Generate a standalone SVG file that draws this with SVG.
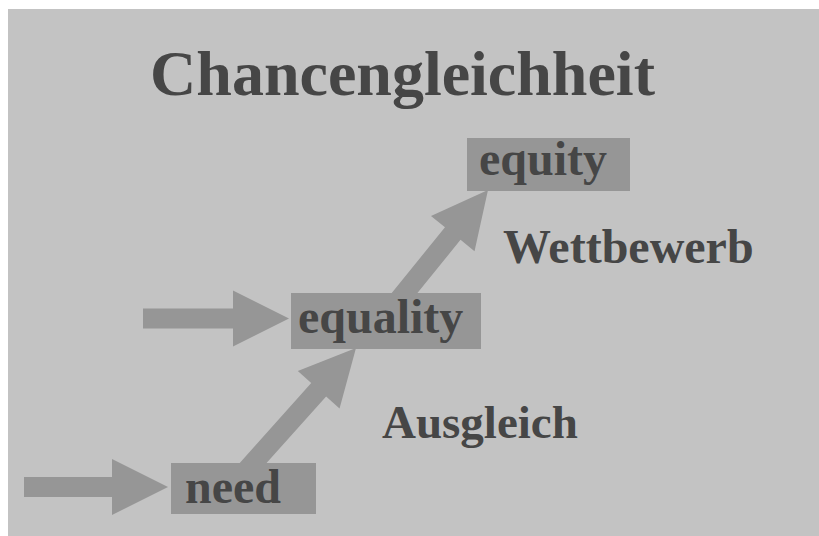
<svg xmlns="http://www.w3.org/2000/svg" width="819" height="536" viewBox="0 0 819 536">
<style>
.bg{fill:#c3c3c3}
.box{fill:#969696}
.arr{fill:#969696}
.t{font-family:"Liberation Serif","Times New Roman",serif;font-weight:bold;fill:#464646}
</style>
<rect x="0" y="0" width="819" height="536" fill="#ffffff"/>
<rect class="bg" x="8" y="9" width="811" height="527"/>
<text class="t" x="402.5" y="95" font-size="64" text-anchor="middle">Chancengleichheit</text>
<g id="connectors">
  <polygon class="arr" transform="translate(24,487)" points="0,-10 88,-10 88,-28 144,0 88,28 88,10 0,10"/>
  <polygon class="arr" transform="translate(143,318.5)" points="0,-10 90,-10 90,-28 146,0 90,28 90,10 0,10"/>
  <polygon class="arr" transform="translate(356,348) rotate(-48.2) translate(-184,0)" points="0,-10 128,-10 128,-28 184,0 128,28 128,10 0,10"/>
  <polygon class="arr" transform="translate(488,190) rotate(-51) translate(-167,0)" points="0,-10 111,-10 111,-28 167,0 111,28 111,10 0,10"/>
</g>
<g id="need">
  <rect class="box" x="171" y="463" width="145" height="51"/>
  <text class="t" x="185" y="503" font-size="48">need</text>
</g>
<g id="equality">
  <rect class="box" x="291" y="293" width="190" height="56"/>
  <text class="t" x="298" y="333" font-size="48">equality</text>
</g>
<g id="equity">
  <rect class="box" x="467" y="138" width="163" height="53"/>
  <text class="t" x="479" y="175" font-size="48">equity</text>
</g>
<g id="labels">
  <text class="t" x="503" y="263" font-size="48">Wettbewerb</text>
  <text class="t" x="382" y="438" font-size="47">Ausgleich</text>
</g>
</svg>
